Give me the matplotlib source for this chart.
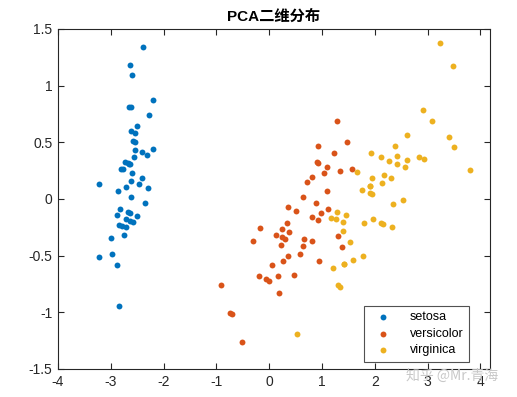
import matplotlib
matplotlib.use("Agg")
import matplotlib.pyplot as plt
import numpy as np

plt.rcParams['font.family'] = ['Liberation Sans', 'Noto Sans CJK SC', 'DejaVu Sans']

species = ["setosa", "versicolor", "virginica"]
colors = ["#0072BD", "#D95319", "#EDB120"]

setosa = [
    (-2.684, 0.319), (-2.714, -0.177), (-2.889, -0.145), (-2.745, -0.318), (-2.729, 0.327),
    (-2.281, 0.741), (-2.821, -0.089), (-2.626, 0.163), (-2.886, -0.578), (-2.673, -0.114),
    (-2.507, 0.645), (-2.613, 0.015), (-2.786, -0.235), (-3.224, -0.511), (-2.645, 1.179),
    (-2.386, 1.338), (-2.624, 0.811), (-2.648, 0.312), (-2.200, 0.873), (-2.588, 0.514),
    (-2.310, 0.391), (-2.544, 0.433), (-3.216, 0.133), (-2.303, 0.099), (-2.356, -0.037),
    (-2.507, -0.146), (-2.469, 0.131), (-2.562, 0.368), (-2.640, 0.312), (-2.632, -0.197),
    (-2.587, -0.204), (-2.410, 0.411), (-2.649, 0.813), (-2.599, 1.093), (-2.637, -0.121),
    (-2.866, 0.069), (-2.625, 0.599), (-2.801, 0.269), (-2.981, -0.488), (-2.590, 0.229),
    (-2.770, 0.264), (-2.849, -0.941), (-2.997, -0.342), (-2.406, 0.189), (-2.209, 0.437),
    (-2.714, -0.250), (-2.538, 0.504), (-2.839, -0.228), (-2.543, 0.579), (-2.703, 0.108),
]
versicolor = [
    (1.285, 0.685), (0.932, 0.318), (1.464, 0.504), (0.183, -0.828), (1.088, 0.075),
    (0.642, -0.418), (1.095, 0.283), (-0.749, -1.005), (1.044, 0.228), (-0.009, -0.723),
    (-0.508, -1.266), (0.512, -0.104), (0.265, -0.550), (0.985, -0.125), (-0.174, -0.255),
    (0.928, 0.467), (0.660, -0.353), (0.236, -0.334), (0.945, -0.543), (0.045, -0.584),
    (1.116, -0.085), (0.358, -0.069), (1.298, -0.328), (0.922, -0.183), (0.715, 0.149),
    (0.900, 0.329), (1.332, 0.244), (1.558, 0.267), (0.813, -0.163), (-0.306, -0.368),
    (-0.068, -0.705), (-0.190, -0.680), (0.136, -0.314), (1.380, -0.421), (0.588, -0.484),
    (0.807, 0.194), (1.221, 0.408), (0.815, -0.372), (0.246, -0.269), (0.166, -0.682),
    (0.465, -0.671), (0.891, -0.034), (0.231, -0.404), (-0.705, -1.012), (0.357, -0.505),
    (0.332, -0.213), (0.376, -0.293), (0.643, 0.018), (-0.906, -0.756), (0.299, -0.349),
]
virginica = [
    (2.531, -0.010), (1.415, -0.575), (2.617, 0.344), (1.972, -0.180), (2.350, -0.040),
    (3.397, 0.551), (0.521, -1.193), (2.933, 0.356), (2.321, -0.244), (2.917, 0.783),
    (1.662, 0.242), (1.803, -0.216), (2.166, 0.216), (1.346, -0.777), (1.586, -0.540),
    (1.904, 0.119), (1.950, 0.042), (3.487, 1.176), (3.796, 0.257), (1.301, -0.761),
    (2.428, 0.378), (1.199, -0.606), (3.500, 0.461), (1.389, -0.204), (2.275, 0.335),
    (2.614, 0.561), (1.259, -0.180), (1.291, -0.117), (2.124, -0.210), (2.388, 0.465),
    (2.842, 0.375), (3.231, 1.374), (2.159, -0.217), (1.444, -0.143), (1.781, -0.500),
    (3.076, 0.688), (2.144, 0.140), (1.905, 0.049), (1.169, -0.165), (2.108, 0.372),
    (2.314, 0.184), (1.922, 0.409), (1.415, -0.575), (2.563, 0.278), (2.419, 0.305),
    (1.944, 0.188), (1.527, -0.375), (1.764, 0.079), (1.901, 0.117), (1.390, -0.283),
]
groups = [setosa, versicolor, virginica]

xticks = [-4, -3, -2, -1, 0, 1, 2, 3, 4]
yticks = [-1.5, -1, -0.5, 0, 0.5, 1, 1.5]
ytick_labels = ["-1.5", "-1", "-0.5", "0", "0.5", "1", "1.5"]

fig = plt.figure(figsize=(5.17, 3.97), dpi=100)
ax = fig.add_axes([58/517, 1 - 369/397, (490-58)/517, (369-29)/397])

for name, pts, c in zip(species, groups, colors):
    arr = np.array(pts)
    ax.scatter(arr[:, 0], arr[:, 1], s=18, color=c, label=name, linewidths=0, zorder=3)

ax.set_xlim(-4, 4.18)
ax.set_ylim(-1.5, 1.5)
ax.set_xticks(xticks)
ax.set_xticklabels([str(t) for t in xticks])
ax.set_yticks(yticks)
ax.set_yticklabels(ytick_labels)
ax.tick_params(direction='in', length=4, width=0.8, labelsize=10, colors='#262626',
               top=True, right=True, pad=4)
for sp in ax.spines.values():
    sp.set_linewidth(0.8)
    sp.set_color('#262626')

ax.set_title("PCA二维分布", fontsize=11, fontweight='bold', color='#000000', pad=6)

leg = ax.legend(loc='lower right', fontsize=9, frameon=True, fancybox=False,
                edgecolor='#262626', handletextpad=1.0, borderpad=0.45,
                labelspacing=0.35, bbox_to_anchor=(0.951, 0.021), borderaxespad=0,
                handlelength=2.2)
leg.get_frame().set_linewidth(0.8)

fig.text(452/517, 1 - 376/397, "知乎 @Mr.青海", fontsize=10, color='#c8c8c8',
         ha='center', va='center', family=['Noto Sans CJK SC', 'DejaVu Sans'])

fig.savefig("out.png", dpi=100)
